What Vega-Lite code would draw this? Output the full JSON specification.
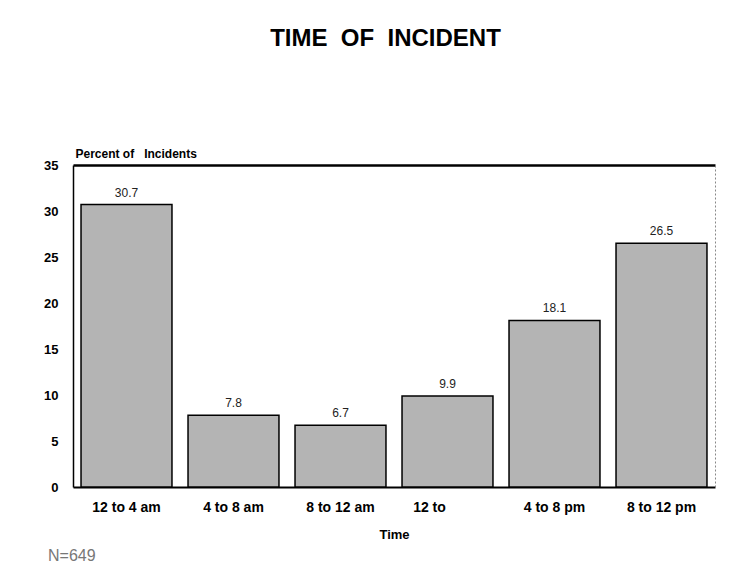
{
  "$schema": "https://vega.github.io/schema/vega-lite/v6.json",
  "autosize": "none",
  "width": 642,
  "height": 322,
  "padding": {"left": 73, "top": 165, "right": 28, "bottom": 82},
  "background": "#ffffff",
  "config": {
    "view": {"stroke": null},
    "font": "Liberation Sans"
  },
  "title": {
    "text": "N=649",
    "orient": "bottom",
    "anchor": "start",
    "frame": "group",
    "dx": -25,
    "offset": 7,
    "font": "Liberation Sans",
    "fontSize": 16,
    "fontWeight": "normal",
    "color": "#777777"
  },
  "data": {
    "values": [
      {"time": "12 to 4 am", "pct": 30.7},
      {"time": "4 to 8 am", "pct": 7.8},
      {"time": "8 to 12 am", "pct": 6.7},
      {"time": "12 to", "pct": 9.9},
      {"time": "4 to 8 pm", "pct": 18.1},
      {"time": "8 to 12 pm", "pct": 26.5}
    ]
  },
  "layer": [
    {
      "mark": {"type": "bar", "fill": "#b4b4b4", "stroke": "#000000", "strokeWidth": 1.5},
      "encoding": {
        "x": {
          "field": "time",
          "type": "nominal",
          "sort": null,
          "scale": {"paddingInner": 0.15, "paddingOuter": 0.075},
          "axis": {
            "orient": "bottom",
            "title": "Time",
            "titleFont": "Liberation Sans",
            "titleFontSize": 13,
            "titleFontWeight": "bold",
            "titleColor": "#000000",
            "titlePadding": 14,
            "labelAngle": 0,
            "labelFont": "Liberation Sans",
            "labelFontSize": 14,
            "labelFontWeight": "bold",
            "labelColor": "#000000",
            "labelPadding": 13,
            "labelOffset": {"condition": {"test": "datum.value === '12 to'", "value": -18}, "value": 0},
            "ticks": false,
            "tickSize": 0,
            "domainColor": "#000000",
            "domainWidth": 2
          }
        },
        "y": {
          "field": "pct",
          "type": "quantitative",
          "scale": {"domain": [0, 35], "nice": false},
          "axis": {
            "orient": "left",
            "values": [0, 5, 10, 15, 20, 25, 30, 35],
            "grid": false,
            "ticks": false,
            "tickSize": 0,
            "labelPadding": 15,
            "labelFlush": false,
            "labelFont": "Liberation Sans",
            "labelFontSize": 13,
            "labelFontWeight": "bold",
            "labelColor": "#000000",
            "domainColor": "#000000",
            "domainWidth": 1.5,
            "title": "Percent of\u00a0\u00a0 Incidents",
            "titleAngle": 0,
            "titleAlign": "left",
            "titleBaseline": "alphabetic",
            "titleX": 2,
            "titleY": -8,
            "titleFont": "Liberation Sans",
            "titleFontSize": 12,
            "titleFontWeight": "bold",
            "titleColor": "#000000"
          }
        }
      }
    },
    {
      "mark": {"type": "text", "baseline": "alphabetic", "dy": -8, "fontSize": 12, "font": "Liberation Sans", "color": "#222222"},
      "encoding": {
        "x": {
          "field": "time",
          "type": "nominal",
          "sort": null,
          "axis": {
            "orient": "top",
            "labels": false,
            "ticks": false,
            "domainColor": "#000000",
            "domainWidth": 2.5,
            "title": "TIME\u00a0 OF\u00a0 INCIDENT",
            "titleFont": "Liberation Sans",
            "titleFontSize": 24,
            "titleFontWeight": "bold",
            "titleColor": "#000000",
            "titleBaseline": "alphabetic",
            "titleX": 312,
            "titleY": -120
          }
        },
        "y": {
          "field": "pct",
          "type": "quantitative",
          "axis": {
            "orient": "right",
            "labels": false,
            "ticks": false,
            "grid": false,
            "title": null,
            "domainColor": "#888888",
            "domainWidth": 1,
            "domainDash": [2, 2]
          }
        },
        "text": {"field": "pct", "type": "quantitative", "format": ".1f"}
      }
    }
  ],
  "resolve": {"axis": {"x": "independent", "y": "independent"}}
}
